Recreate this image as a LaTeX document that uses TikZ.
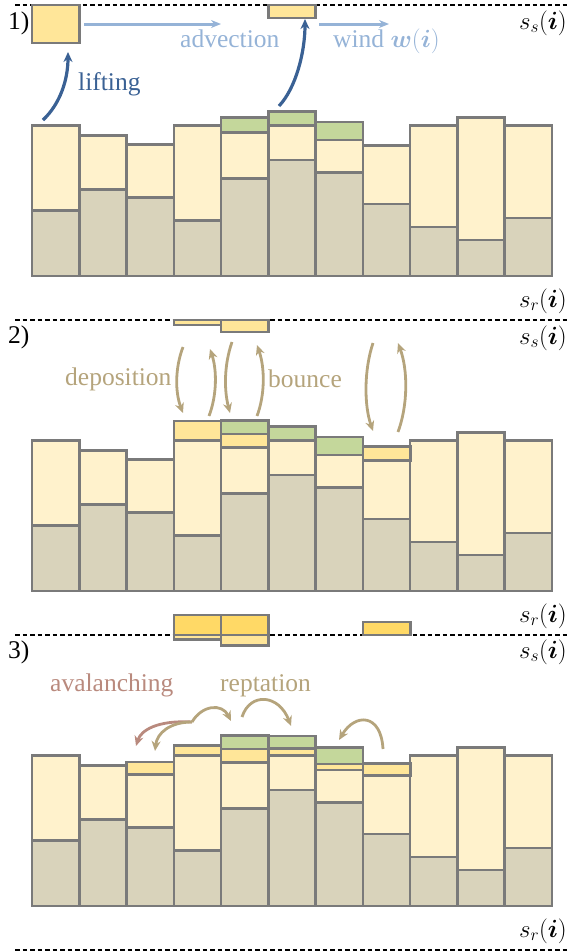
\documentclass[tikz,border=0pt]{standalone}
\usepackage{amsmath}
\usepackage{fontspec}
\setmainfont{Liberation Serif}
\usetikzlibrary{arrows.meta}
\definecolor{sand}{HTML}{FFF2CC}
\definecolor{bed}{HTML}{D9D3BB}
\definecolor{outl}{HTML}{7A7A7A}
\definecolor{veg}{HTML}{C4D79B}
\definecolor{salt}{HTML}{FFE699}
\definecolor{rept}{HTML}{FFD966}
\definecolor{liftblue}{HTML}{3A6194}
\definecolor{advblue}{HTML}{95B3D7}
\definecolor{tan}{HTML}{B5A47C}
\definecolor{aval}{HTML}{B98A7E}
\tikzset{
 cell/.style={draw=outl, line width=2.6pt},
 dline/.style={line width=2.4pt, dash pattern=on 4.5pt off 3pt},
 lab/.style={font=\fontsize{25.5}{30}\selectfont, inner sep=0pt, anchor=base west},
 mlab/.style={font=\fontsize{24}{28}\selectfont, inner sep=0pt, anchor=base east},
 flow/.style={line width=2.8pt, -{Stealth[length=10pt,width=9pt]}},
}
\newcommand\sandcols[1]{%
 \foreach \k/\g/\t in {1/210.5/125.7,2/189.5/135.7,3/197.5/144.3,4/220.5/125.7,5/178.7/132.3,6/160/125.7,7/172.7/140,8/204/145.3,9/227/125.7,10/240/117.3,11/218/125.7}{%
  \pgfmathsetmacro\xa{32+47.27*(\k-1)}%
  \pgfmathsetmacro\xb{\xa+47.27}%
  \draw[cell,fill=bed] (\xa,#1+276) rectangle (\xb,#1+\g);
  \draw[cell,fill=sand] (\xa,#1+\g) rectangle (\xb,#1+\t);
 }}
\begin{document}
\begin{tikzpicture}[x=1pt,y=-1pt]
\useasboundingbox (0,0) rectangle (569,951);

% ---------- dashed level lines ----------
\coordinate (d1a) at (15,5);   \coordinate (d1b) at (569,5);
\coordinate (d2a) at (15,320); \coordinate (d2b) at (569,320);
\coordinate (d3a) at (15,635); \coordinate (d3b) at (569,635);
\coordinate (d4a) at (15,950); \coordinate (d4b) at (569,950);
\draw[dline] (d1a) -- (d1b);
\draw[dline] (d2a) -- (d2b);
\draw[dline] (d3a) -- (d3b);
\draw[dline] (d4a) -- (d4b);

% ---------- level labels ----------
\node[mlab] (ss1) at (567,29) {$s_s(\boldsymbol{i})$};
\node[mlab] (sr1) at (567,307) {$s_r(\boldsymbol{i})$};
\node[mlab] (ss2) at (567,344) {$s_s(\boldsymbol{i})$};
\node[mlab] (sr2) at (567,622) {$s_r(\boldsymbol{i})$};
\node[mlab] (ss3) at (567,658) {$s_s(\boldsymbol{i})$};
\node[mlab] (sr3) at (567,937) {$s_r(\boldsymbol{i})$};

\node[lab] (n1) at (8,29) {1)};
\node[lab] (n2) at (8,343) {2)};
\node[lab] (n3) at (8,658) {3)};

% ================= panel 1 =================
\sandcols{0}
\draw[cell,fill=veg] (221,132.3) rectangle (268.4,117.7);
\draw[cell,fill=veg] (268.4,125.7) rectangle (315.6,111.7);
\draw[cell,fill=veg] (315.6,140) rectangle (362.9,122);
\draw[cell,fill=salt] (32,5) rectangle (79.3,43);
\draw[cell,fill=salt] (268.4,5) rectangle (315.6,18);

\coordinate (l1s) at (43,120);  \coordinate (l1e) at (68,52);
\coordinate (l2s) at (279,106); \coordinate (l2e) at (305,19);
\draw[flow,liftblue,line width=3.2pt] (l1s) .. controls (60,104) and (68,80) .. (l1e);
\draw[flow,liftblue,line width=3.2pt] (l2s) .. controls (296,88) and (305,52) .. (l2e);
\node[lab,text=liftblue] (lifting) at (78,90) {lifting};

\coordinate (a1s) at (84,24);  \coordinate (a1e) at (221,24);
\coordinate (a2s) at (319,24); \coordinate (a2e) at (389,24);
\draw[advblue,line width=3pt,-{Stealth[length=10pt,width=8pt]}] (a1s) -- (a1e);
\draw[advblue,line width=3pt,-{Stealth[length=10pt,width=8pt]}] (a2s) -- (a2e);
\node[lab,text=advblue] (advection) at (180,47) {advection};
\node[lab,text=advblue] (wind) at (333,47) {wind $\boldsymbol{w}(\boldsymbol{i})$};

% ================= panel 2 =================
\sandcols{315}
\draw[cell,fill=salt] (173.8,440.7) rectangle (221,421);
\draw[cell,fill=salt] (221,447.3) rectangle (268.4,434);
\draw[cell,fill=veg] (221,434) rectangle (268.4,420.5);
\draw[cell,fill=veg] (268.4,440.7) rectangle (315.6,426.7);
\draw[cell,fill=veg] (315.6,455) rectangle (362.9,437);
\draw[cell,fill=salt] (362.9,460.3) rectangle (410.2,446.7);
\draw[cell,fill=salt] (173.8,320) rectangle (221,325);
\draw[cell,fill=salt] (221,320) rectangle (268.4,332);

\coordinate (b1s) at (183,347); \coordinate (b1e) at (183,413);
\coordinate (b2s) at (209,416); \coordinate (b2e) at (210,349);
\coordinate (b3s) at (232,342); \coordinate (b3e) at (230,413);
\coordinate (b4s) at (257,416); \coordinate (b4e) at (257,345);
\coordinate (b5s) at (373,343); \coordinate (b5e) at (373,431);
\coordinate (b6s) at (398,432); \coordinate (b6e) at (398,343);
\draw[flow,tan] (b1s) .. controls (175,368) and (175,392) .. (b1e);
\draw[flow,tan] (b2s) .. controls (217,395) and (217,370) .. (b2e);
\draw[flow,tan] (b3s) .. controls (224,365) and (224,390) .. (b3e);
\draw[flow,tan] (b4s) .. controls (265,395) and (265,368) .. (b4e);
\draw[flow,tan] (b5s) .. controls (364,370) and (364,405) .. (b5e);
\draw[flow,tan] (b6s) .. controls (408,405) and (408,370) .. (b6e);
\node[lab,text=tan] (deposition) at (65,385) {deposition};
\node[lab,text=tan] (bounce) at (268,387) {bounce};

% ================= panel 3 =================
\sandcols{630}
\draw[cell,fill=salt] (126.5,774.3) rectangle (173.8,762);
\draw[cell,fill=salt] (173.8,755.7) rectangle (221,745.5);
\draw[cell,fill=salt] (221,762.3) rectangle (268.4,749);
\draw[cell,fill=veg] (221,749) rectangle (268.4,735.5);
\draw[cell,fill=salt] (268.4,755.7) rectangle (315.6,748.3);
\draw[cell,fill=veg] (268.4,748.3) rectangle (315.6,736);
\draw[cell,fill=salt] (315.6,770) rectangle (362.9,764);
\draw[cell,fill=veg] (315.6,764) rectangle (362.9,747.3);
\draw[cell,fill=salt] (362.9,775.3) rectangle (410.2,763.3);
% saltation / reptation layer blocks
\draw[cell,fill=salt] (173.8,635) rectangle (221,639.5);
\draw[cell,fill=salt] (221,635) rectangle (268.4,645.5);
\draw[cell,fill=rept] (173.8,615) rectangle (221,635);
\draw[cell,fill=rept] (221,615) rectangle (268.4,635);
\draw[cell,fill=rept] (362.9,622) rectangle (410.2,635);

\coordinate (src) at (192,722);
\coordinate (av1) at (136,746);
\coordinate (r1) at (155,751);
\coordinate (r2) at (231,721);
\coordinate (r3s) at (242,717); \coordinate (r3e) at (291,726);
\coordinate (r4s) at (383,749); \coordinate (r4e) at (339,740);
\draw[flow,aval] (src) .. controls (158,720) and (141,730) .. (av1);
\draw[flow,tan] (src) .. controls (170,722) and (157,733) .. (r1);
\draw[flow,tan] (src) .. controls (202,705) and (222,703) .. (r2);
\draw[flow,tan] (r3s) .. controls (250,692) and (279,694) .. (r3e);
\draw[flow,tan] (r4s) .. controls (381,713) and (355,713) .. (r4e);
\node[lab,text=aval] (avalanching) at (50,691) {avalanching};
\node[lab,text=tan] (reptation) at (220,691) {reptation};
\end{tikzpicture}
\end{document}
